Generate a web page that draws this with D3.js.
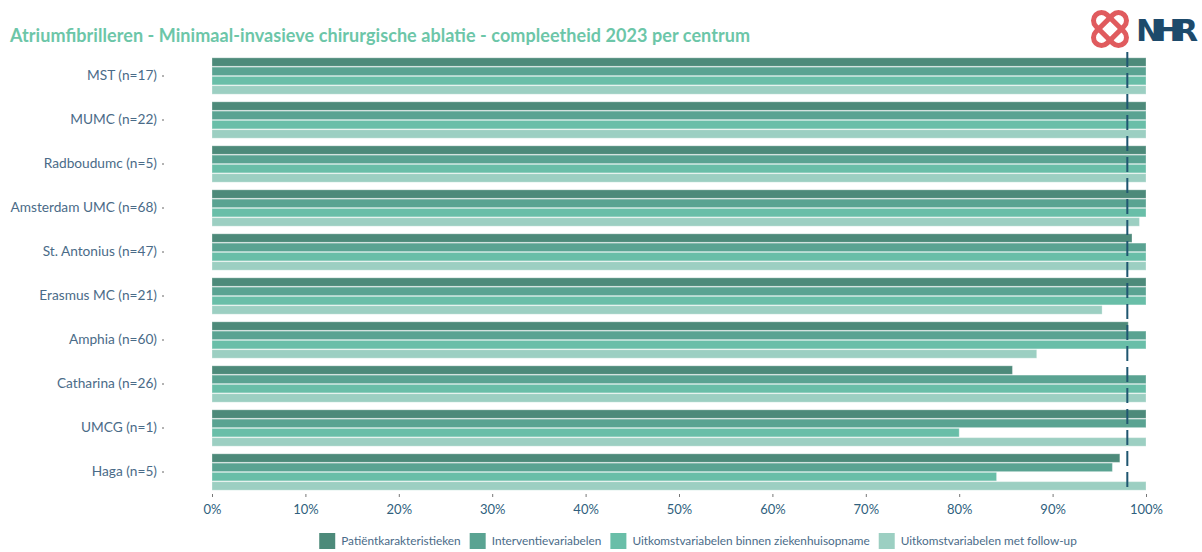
<!DOCTYPE html>
<html>
<head>
<meta charset="utf-8">
<script src="https://cdn.jsdelivr.net/npm/d3@7"></script>
<style>
  body { margin: 0; background: #fff; }
  svg { font-family: Lato, "Open Sans", sans-serif; }
</style>
</head>
<body>
<svg id="chart"></svg>
<script>
let width = 1202,
  height = 552;

// data
const centres = ["MST (n=17)", "MUMC (n=22)", "Radboudumc (n=5)", "Amsterdam UMC (n=68)",
  "St. Antonius (n=47)", "Erasmus MC (n=21)", "Amphia (n=60)", "Catharina (n=26)",
  "UMCG (n=1)", "Haga (n=5)"];
const seriesNames = ["Patiëntkarakteristieken", "Interventievariabelen",
  "Uitkomstvariabelen binnen ziekenhuisopname", "Uitkomstvariabelen met follow-up"];
const patient = [100, 100, 100, 100, 98.5, 100, 98.1, 85.7, 100, 97.2];
const interventie = [100, 100, 100, 100, 100, 100, 100, 100, 100, 96.4];
const uitkomstZkh = [100, 100, 100, 100, 100, 100, 100, 100, 80, 84.0];
const uitkomstFu = [100, 100, 100, 99.3, 100, 95.3, 88.3, 100, 100, 100];
const norm = 98;
const xTicks = [0, 10, 20, 30, 40, 50, 60, 70, 80, 90, 100];

const colors = ["#4d8a7a", "#5aa392", "#69bea8", "#9ccfc2"];

let rows = centres.map((c, i) => ({
  centre: c,
  values: [patient[i], interventie[i], uitkomstZkh[i], uitkomstFu[i]]
}));

let svg = d3.select("#chart").attr("width", width).attr("height", height);

// scales
var x = d3.scaleLinear().domain([0, 100]).range([212, 1146]);
var y = d3.scaleBand().domain(centres).range([54, 494]).paddingInner(0.14).paddingOuter(0.07);
var ySub = d3.scaleBand().domain(d3.range(4)).range([0, y.bandwidth()]).padding(0.08);

// title
svg.append("text")
  .attr("x", 10).attr("y", 42)
  .attr("fill", "#6cc6a8")
  .style("font-size", "18px")
  .style("font-weight", "bold")
  .attr("textLength", 740)
  .text("Atriumfibrilleren - Minimaal-invasieve chirurgische ablatie - compleetheid 2023 per centrum");

// logo
var logo = svg.append("g").attr("transform", "translate(1110,29)");
[-45, 45].forEach((a) => {
  logo.append("rect")
    .attr("x", -20).attr("y", -8).attr("width", 40).attr("height", 16)
    .attr("rx", 8)
    .attr("fill", "none")
    .attr("stroke", "#e05b5e")
    .attr("stroke-width", 5)
    .attr("transform", "rotate(" + a + ")");
});
svg.append("text")
  .attr("x", 1136).attr("y", 41)
  .attr("fill", "#1d4a6b")
  .style("font-size", "31px")
  .style("font-weight", "900")
  .style("font-family", "'DejaVu Sans', sans-serif")
  .attr("textLength", 62)
  .text("NHR");

// bars
var groups = svg.append("g")
  .selectAll("g")
  .data(rows)
  .enter()
  .append("g")
  .attr("transform", (d) => "translate(0," + y(d.centre) + ")");

groups.selectAll("rect")
  .data((d) => d.values)
  .enter()
  .append("rect")
  .attr("x", x(0))
  .attr("y", (d, i) => ySub(i))
  .attr("width", (d) => x(d) - x(0))
  .attr("height", ySub.bandwidth())
  .attr("fill", (d, i) => colors[i])
  .attr("stroke", "#ffffff")
  .attr("stroke-opacity", 0.3)
  .attr("stroke-width", 1);

// norm line
svg.append("line")
  .attr("x1", x(norm)).attr("x2", x(norm))
  .attr("y1", 52).attr("y2", 492)
  .attr("stroke", "#1f5670")
  .attr("stroke-width", 2)
  .attr("stroke-dasharray", "15,6");

// y axis
var yAxis = svg.append("g")
  .attr("transform", "translate(164,0)")
  .call(d3.axisLeft(y).tickSize(2).tickPadding(5));
yAxis.select(".domain").remove();
yAxis.selectAll("line").attr("stroke", "#666");
yAxis.selectAll("text")
  .attr("fill", "#4a6b88")
  .style("font-size", "13.7px")
  .style("font-family", "Lato, sans-serif");

// x axis
var xAxis = svg.append("g")
  .attr("transform", "translate(0,494)")
  .call(d3.axisBottom(x).tickValues(xTicks).tickFormat((d) => d + "%").tickSize(3).tickPadding(8));
xAxis.select(".domain").remove();
xAxis.selectAll("line").attr("stroke", "#777");
xAxis.selectAll("text")
  .attr("fill", "#2f5f7e")
  .style("font-size", "13px")
  .style("font-family", "Lato, sans-serif");

// legend
var legend = svg.append("g");
var lx = 0;
seriesNames.forEach((name, i) => {
  var item = legend.append("g").attr("transform", "translate(" + lx + ",0)");
  item.append("rect")
    .attr("x", 0).attr("y", 533)
    .attr("width", 16).attr("height", 16)
    .attr("fill", colors[i]);
  var t = item.append("text")
    .attr("x", 22).attr("y", 545)
    .attr("fill", "#4a6b88")
    .style("font-size", "11.8px")
    .text(name);
  lx += 22 + t.node().getComputedTextLength() + 9;
});
legend.attr("transform", "translate(" + (698 - (lx - 9) / 2) + ",0)");
</script>
</body>
</html>
